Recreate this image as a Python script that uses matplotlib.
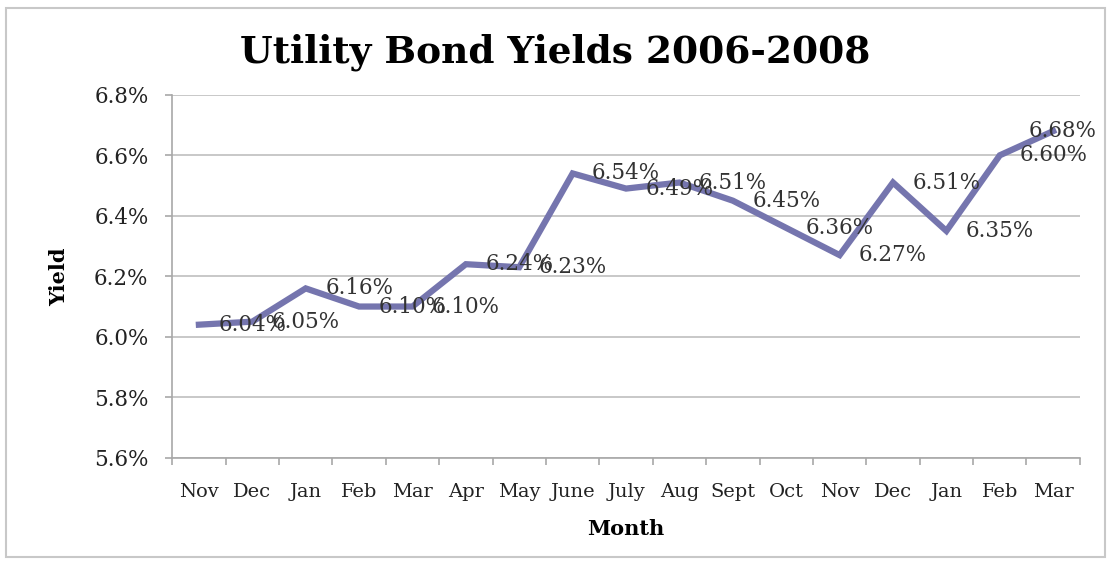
import matplotlib.pyplot as plt
from matplotlib.patches import Rectangle

months = ["Nov", "Dec", "Jan", "Feb", "Mar", "Apr", "May", "June", "July",
          "Aug", "Sept", "Oct", "Nov", "Dec", "Jan", "Feb", "Mar"]
yields = [6.04, 6.05, 6.16, 6.10, 6.10, 6.24, 6.23, 6.54, 6.49,
          6.51, 6.45, 6.36, 6.27, 6.51, 6.35, 6.60, 6.68]
yticks = [5.6, 5.8, 6.0, 6.2, 6.4, 6.6, 6.8]

serif = "DejaVu Serif"
line_color = "#7575AE"

fig = plt.figure(figsize=(11.11, 5.61), dpi=100)
ax = fig.add_axes([0.155, 0.184, 0.817, 0.647])

# outer chart frame
fig.patches.append(Rectangle((0.005, 0.008), 0.99, 0.978, transform=fig.transFigure,
                             fill=False, edgecolor="#C8C8C8", lw=1.5))

x = list(range(len(months)))
ax.plot(x, yields, color=line_color, lw=4.5, solid_joinstyle="miter", zorder=3)

for i, v in enumerate(yields):
    if i == len(yields) - 1:
        off = (-18, 0)
    else:
        off = (14, 0)
    ax.annotate(f"{v:.2f}%", (i, v), xytext=off, textcoords="offset points",
                ha="left", va="center", fontsize=15.5, family=serif, color="#333333",
                zorder=4, annotation_clip=False)

ax.set_xlim(-0.5, len(months) - 0.5)
ax.set_ylim(5.6, 6.8)
ax.set_yticks(yticks)
ax.set_yticklabels([f"{t:.1f}%" for t in yticks], family=serif, fontsize=15.5, color="#222222")
ax.yaxis.grid(True, color="#C4C4C4", lw=1.3)
ax.set_axisbelow(True)

# category boundaries as tick marks, labels at centers
ax.set_xticks([i - 0.5 for i in range(len(months) + 1)])
ax.set_xticklabels([])
ax.set_xticks(x, minor=True)
ax.set_xticklabels(months, minor=True, family=serif, fontsize=14, color="#222222")
ax.tick_params(axis="x", which="major", length=5, color="#A8A8A8", width=1.2)
ax.tick_params(axis="x", which="minor", length=0, pad=18)
ax.tick_params(axis="y", length=5, color="#A8A8A8", width=1.2, pad=12)

for s in ["top", "right"]:
    ax.spines[s].set_visible(False)
for s in ["left", "bottom"]:
    ax.spines[s].set_color("#A8A8A8")
    ax.spines[s].set_linewidth(1.2)

ax.set_xlabel("Month", family=serif, fontsize=15, fontweight="bold", labelpad=13)
ax.set_ylabel("Yield", family=serif, fontsize=15, fontweight="bold", labelpad=18)
fig.suptitle("Utility Bond Yields 2006-2008", family=serif, fontsize=27,
             fontweight="bold", y=0.94)

fig.savefig("out.png", dpi=100)
